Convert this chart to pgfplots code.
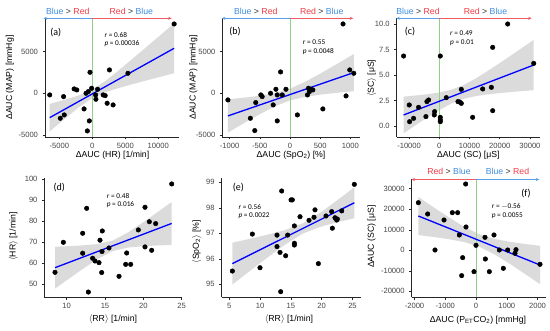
\documentclass[border=0pt]{standalone}
\usepackage{pgfplots}
\pgfplotsset{compat=1.18}
\usepackage{fontspec}
\setmainfont{Liberation Sans}
\newfontfamily\anfont{Carlito}
\usetikzlibrary{arrows.meta}
\definecolor{cblue}{RGB}{61,142,222}
\definecolor{cred}{RGB}{240,60,70}
\definecolor{ablue}{RGB}{90,160,230}
\definecolor{ared}{RGB}{240,90,100}
\definecolor{vgreen}{RGB}{140,210,130}
\definecolor{rib}{RGB}{219,219,219}
\definecolor{tickc}{RGB}{70,70,70}
\definecolor{fitblue}{RGB}{0,0,255}
\pgfplotsset{
  panel/.style={scale only axis, clip=false,
    axis x line*=bottom, axis y line*=left,
    axis line style={line width=0.65pt, black!85},
    tick align=outside, major tick length=2.5pt,
    tick style={line width=0.5pt, black!85},
    every tick label/.style={font=\fontsize{7.6}{9}\selectfont, text=tickc},
    xticklabel style={yshift=0pt}, yticklabel style={xshift=-1pt},
    scaled ticks=false},
  rib/.style={fill=rib, draw=none},
  fit/.style={fitblue, line width=1.3pt},
  pts/.style={only marks, mark=*, mark size=2.3pt, black},
  vg/.style={vgreen, line width=0.7pt},
}
\newcommand{\BR}{{\color{cblue}Blue} {\color{black!80}>} {\color{cred}Red}}
\newcommand{\RB}{{\color{cred}Red} {\color{black!80}>} {\color{cblue}Blue}}
\newcommand{\lab}{\fontsize{8.7}{10}\selectfont}
\newcommand{\an}{\anfont\fontsize{7.3}{8}\selectfont}
\newcommand{\pl}{\anfont\fontsize{10}{11}\selectfont}
\begin{document}
\begin{tikzpicture}[x=1pt,y=1pt]
\path[use as bounding box] (0pt,0pt) rectangle (550pt,331pt);

% (a)
\begin{axis}[panel, at={(45pt,194pt)}, anchor=south west, width=134pt, height=118.7pt,
  xmin=-7167, xmax=13136, ymin=-5250, ymax=9000,
  xtick={-5000,0,5000,10000}, xticklabels={-5000,0,5000,10000},
  ytick={-5000,0,5000}, yticklabels={-5000,0,5000}]
\addplot[rib] coordinates {(-6450,-1274) (-4000,-738) (-2000,-249) (0,425) (2000,1484) (4000,2751) (6000,4076) (8000,5418) (10000,6768) (12400,8394)
 (12400,2406) (10000,1912) (8000,1496) (6000,1072) (4000,629) (2000,130) (0,-577) (-2000,-1669) (-4000,-2946) (-6450,-4574)};
\addplot[vg] coordinates {(0,-5250) (0,9000)};
\draw[ablue, line width=0.6pt, -{Stealth[length=3.5pt,width=3pt]}] (axis cs:0,9000) -- (axis cs:-7400,9000);
\draw[ared, line width=0.6pt, -{Stealth[length=3.5pt,width=3pt]}] (axis cs:0,9000) -- (axis cs:12030,9000);
\addplot[fit] coordinates {(-6450,-2924) (12400,5400)};
\addplot[pts] table {
-6450 -200
-4350 -400
-4250 -2600
-4850 -3000
-2750 520
-2350 400
-1250 -1880
-950 0
-600 200
-350 2520
-450 -3320
-750 -4520
-100 600
500 -200
550 -720
800 480
1650 -200
1950 -280
2250 -1200
2600 2800
3150 -1400
5400 2400
12400 8320
};
\end{axis}

% (b)
\begin{axis}[panel, at={(222.3pt,194pt)}, anchor=south west, width=137.7pt, height=118.7pt,
  xmin=-1121, xmax=1159, ymin=-5250, ymax=9000,
  xtick={-1000,-500,0,500,1000}, xticklabels={-1000,-500,0,500,1000},
  ytick={-5000,0,5000}, yticklabels={-5000,0,5000}]
\addplot[rib] coordinates {(-1028,-725) (-750,-517) (-500,-294) (-250,18) (0,552) (250,1374) (500,2355) (750,3397) (1056,4705)
 (1056,255) (750,35) (500,-169) (250,-436) (0,-862) (-250,-1576) (-500,-2512) (-750,-3535) (-1028,-4715)};
\addplot[vg] coordinates {(0,-5250) (0,9000)};
\draw[ablue, line width=0.6pt, -{Stealth[length=3.5pt,width=3pt]}] (axis cs:0,9000) -- (axis cs:-1130,9000);
\draw[ared, line width=0.6pt, -{Stealth[length=3.5pt,width=3pt]}] (axis cs:0,9000) -- (axis cs:1048,9000);
\addplot[fit] coordinates {(-1028,-2720) (1056,2480)};
\addplot[pts] table {
-1028 -800
-656 -3000
-583 -4480
-567 -1120
-483 -200
-461 -400
-322 0
-278 -1400
-233 480
-211 -200
-211 -3320
-156 2560
-128 -200
-67 480
122 -2600
289 -200
306 600
322 200
344 480
378 400
544 -1880
878 8320
928 -320
989 2800
1056 2400
};
\end{axis}

% (c)
\begin{axis}[panel, at={(396.7pt,194pt)}, anchor=south west, width=143.3pt, height=118.7pt,
  xmin=-14100, xmax=33344, ymin=-1.08, ymax=10.56,
  xtick={-10000,0,10000,20000,30000}, xticklabels={-10000,0,10000,20000,30000},
  ytick={0,2.5,5,7.5,10}, yticklabels={0.0,2.5,5.0,7.5,10.0}]
\addplot[rib] coordinates {(-11820,2.880) (-8000,2.984) (-4000,3.113) (0,3.285) (4000,3.556) (8000,4.011) (12000,4.649) (16000,5.387) (20000,6.168) (24000,6.969) (28000,7.780) (31270,8.446)
 (31270,3.512) (28000,3.436) (24000,3.337) (20000,3.228) (16000,3.099) (12000,2.927) (8000,2.657) (4000,2.202) (0,1.563) (-4000,0.825) (-8000,0.044) (-11820,-0.720)};
\addplot[vg] coordinates {(0,-1.08) (0,10.56)};
\draw[ablue, line width=0.6pt, -{Stealth[length=3.5pt,width=3pt]}] (axis cs:0,10.56) -- (axis cs:-14250,10.56);
\draw[ared, line width=0.6pt, -{Stealth[length=3.5pt,width=3pt]}] (axis cs:0,10.56) -- (axis cs:30600,10.56);
\addplot[fit] coordinates {(-11820,1.080) (31270,5.979)};
\addplot[pts] table {
-11820 6.86
-9945 2.06
-9835 0.42
-8510 0.75
-6850 1.83
-4420 0.92
-4090 2.39
-3540 2.55
-1660 1.08
-1550 1.41
330 6.86
330 0.85
330 0.59
330 0.42
2320 2.78
6190 2.39
6740 2.35
7290 3.59
7290 2.22
11050 0.85
14365 3.63
17240 3.79
17680 7.71
17680 1.50
22650 10.0
31270 6.14
};
\end{axis}

% (d)
\begin{axis}[panel, at={(44.5pt,33.7pt)}, anchor=south west, width=138pt, height=118.8pt,
  xmin=7.11, xmax=25.11, ymin=43.8, ymax=100.4,
  xtick={10,15,20,25}, xticklabels={10,15,20,25},
  ytick={50,60,70,80,90,100}, yticklabels={50,60,70,80,90,100}]
\addplot[rib] coordinates {(8.48,67.90) (10,68.12) (12,68.51) (14,69.14) (16,70.82) (18,74.68) (20,79.58) (22,84.75) (23.7,89.21)
 (23.7,68.77) (22,68.52) (20,68.14) (18,67.50) (16,65.82) (14,61.97) (12,57.06) (10,51.89) (8.48,47.91)};
\addplot[fit] coordinates {(8.48,57.90) (23.7,78.99)};
\addplot[pts] table {
8.48 55.7
9.57 70.0
12.09 74.3
12.09 64.8
12.61 86.2
12.83 46.3
13.39 62.4
13.70 61.1
14.22 60.3
14.35 71.0
14.57 55.6
14.65 75.4
14.61 65.6
15.52 67.3
16.83 53.8
17.70 59.5
17.83 64.9
18.35 59.5
19.35 75.9
20.22 86.7
20.22 67.8
20.78 79.8
21.09 66.2
21.61 78.9
23.70 97.8
};
\end{axis}

% (e)
\begin{axis}[panel, at={(221.7pt,33.7pt)}, anchor=south west, width=138.8pt, height=118.8pt,
  xmin=3.76, xmax=26.3, ymin=94.49, ymax=99.15,
  xtick={5,10,15,20,25}, xticklabels={5,10,15,20,25},
  ytick={95,96,97,98,99}, yticklabels={95,96,97,98,99}]
\addplot[rib] coordinates {(5.49,96.630) (8,96.766) (11,96.935) (14,97.124) (17,97.398) (20,97.848) (23,98.382) (25.3,98.807)
 (25.3,97.591) (23,97.462) (20,97.272) (17,96.998) (14,96.548) (11,96.015) (8,95.460) (5.49,94.990)};
\addplot[fit] coordinates {(5.49,95.81) (25.3,98.199)};
\addplot[pts] table {
5.49 95.52
8.74 96.97
9.98 95.65
12.74 96.93
12.74 96.48
13.23 96.25
13.34 94.71
13.50 98.66
14.15 96.12
14.47 96.93
15.02 98.31
15.23 98.31
15.56 97.29
15.56 96.61
15.56 96.54
16.48 97.65
17.94 97.51
18.75 97.63
18.91 97.92
19.46 95.81
20.70 97.68
21.62 97.85
21.73 97.20
22.16 97.61
22.43 97.52
22.54 97.56
23.25 97.88
25.30 98.92
};
\end{axis}

% (f)
\begin{axis}[panel, at={(411.7pt,33.7pt)}, anchor=south west, width=134.3pt, height=117.8pt,
  xmin=-2091, xmax=2276, ymin=-22880, ymax=34500,
  xtick={-2000,-1000,0,1000,2000}, xticklabels={-2000,-1000,0,1000,2000},
  ytick={-20000,-10000,0,10000,20000,30000}, yticklabels={-20000,-10000,0,10000,20000,30000}]
\addplot[rib] coordinates {(-1875,26020) (-1400,21184) (-900,16214) (-400,11563) (100,7811) (600,5533) (1100,4154) (1600,3094) (2081,2191)
 (2081,-16459) (1600,-11562) (1100,-6592) (600,-1941) (100,1811) (-400,4089) (-900,5468) (-1400,6528) (-1875,7420)};
\addplot[vg] coordinates {(0,-22880) (0,34500)};
\draw[ared, line width=0.6pt, -{Stealth[length=3.5pt,width=3pt]}] (axis cs:0,34500) -- (axis cs:-2100,34500);
\draw[ablue, line width=0.6pt, -{Stealth[length=3.5pt,width=3pt]}] (axis cs:0,34500) -- (axis cs:2059,34500);
\addplot[fit] coordinates {(-1875,16720) (2081,-7134)};
\addplot[pts] table {
-1875 23210
-1572 17690
-1333 160
-1040 14770
-770 18340
-596 18340
-542 7470
-434 -3570
-466 -12330
-336 32300
-325 11360
-65 -10390
0 2430
293 6330
304 -4220
434 -10390
585 7470
759 160
889 -8760
1030 160
1268 -1460
1301 320
2081 -6820
};
\end{axis}

% header texts
\node[font=\lab] at (67.8pt,320pt) {\BR};
\node[font=\lab] at (131.3pt,320pt) {\RB};
\node[font=\lab] at (255.8pt,320pt) {\BR};
\node[font=\lab] at (321.7pt,320pt) {\RB};
\node[font=\lab] at (418pt,320pt) {\BR};
\node[font=\lab] at (485.5pt,320pt) {\RB};
\node[font=\lab] at (449pt,159.3pt) {\RB};
\node[font=\lab] at (507.5pt,159.3pt) {\BR};

% panel letters
\node[font=\pl] at (55.7pt,298.7pt) {(a)};
\node[font=\pl] at (235pt,299.3pt) {(b)};
\node[font=\pl] at (410pt,299.3pt) {(c)};
\node[font=\pl] at (59.3pt,143.3pt) {(d)};
\node[font=\pl] at (238.3pt,143.3pt) {(e)};
\node[font=\pl] at (526pt,137.7pt) {(f)};

% r, p
\node[font=\an, anchor=west] at (101pt,296pt) {\textit{r} = 0.68};
\node[font=\an, anchor=west] at (101pt,287.3pt) {\textit{p} = 0.00036};
\node[font=\an, anchor=west] at (299.3pt,289.3pt) {\textit{r} = 0.55};
\node[font=\an, anchor=west] at (299.3pt,279.3pt) {\textit{p} = 0.0048};
\node[font=\an, anchor=west] at (446.7pt,297.7pt) {\textit{r} = 0.49};
\node[font=\an, anchor=west] at (446.7pt,288.3pt) {\textit{p} = 0.01};
\node[font=\an, anchor=west] at (103.3pt,135.3pt) {\textit{r} = 0.48};
\node[font=\an, anchor=west] at (103.3pt,126.7pt) {\textit{p} = 0.016};
\node[font=\an, anchor=west] at (235pt,124.3pt) {\textit{r} = 0.56};
\node[font=\an, anchor=west] at (235pt,115.3pt) {\textit{p} = 0.0022};
\node[font=\an, anchor=west] at (488.3pt,124.3pt) {\textit{r} = $-$0.56};
\node[font=\an, anchor=west] at (488.3pt,115pt) {\textit{p} = 0.0055};

% axis titles
\node[font=\lab] at (112.5pt,176pt) {ΔAUC (HR) [1/min]};
\node[font=\lab, rotate=90] at (10pt,253.4pt) {ΔAUC (MAP) [mmHg]};
\node[font=\lab] at (291pt,176pt) {ΔAUC (SpO\textsubscript{2}) [\%]};
\node[font=\lab, rotate=90] at (193.3pt,253.4pt) {ΔAUC (MAP) [mmHg]};
\node[font=\lab] at (468.3pt,176pt) {ΔAUC (SC) [μS]};
\node[font=\lab, rotate=90] at (371.7pt,252.7pt) {$\langle$SC$\rangle$ [μS]};
\node[font=\lab] at (113pt,12pt) {$\langle$RR$\rangle$ [1/min]};
\node[font=\lab, rotate=90] at (13.3pt,94.3pt) {$\langle$HR$\rangle$ [1/min]};
\node[font=\lab] at (289pt,12pt) {$\langle$RR$\rangle$ [1/min]};
\node[font=\lab, rotate=90] at (196.7pt,89.3pt) {$\langle$SpO\textsubscript{2}$\rangle$ [\%]};
\node[font=\lab] at (478pt,11pt) {ΔAUC (P\textsubscript{ET}CO\textsubscript{2}) [mmHg]};
\node[font=\lab, rotate=90] at (371.7pt,94.3pt) {ΔAUC (SC) [μS]};
\end{tikzpicture}
\end{document}
